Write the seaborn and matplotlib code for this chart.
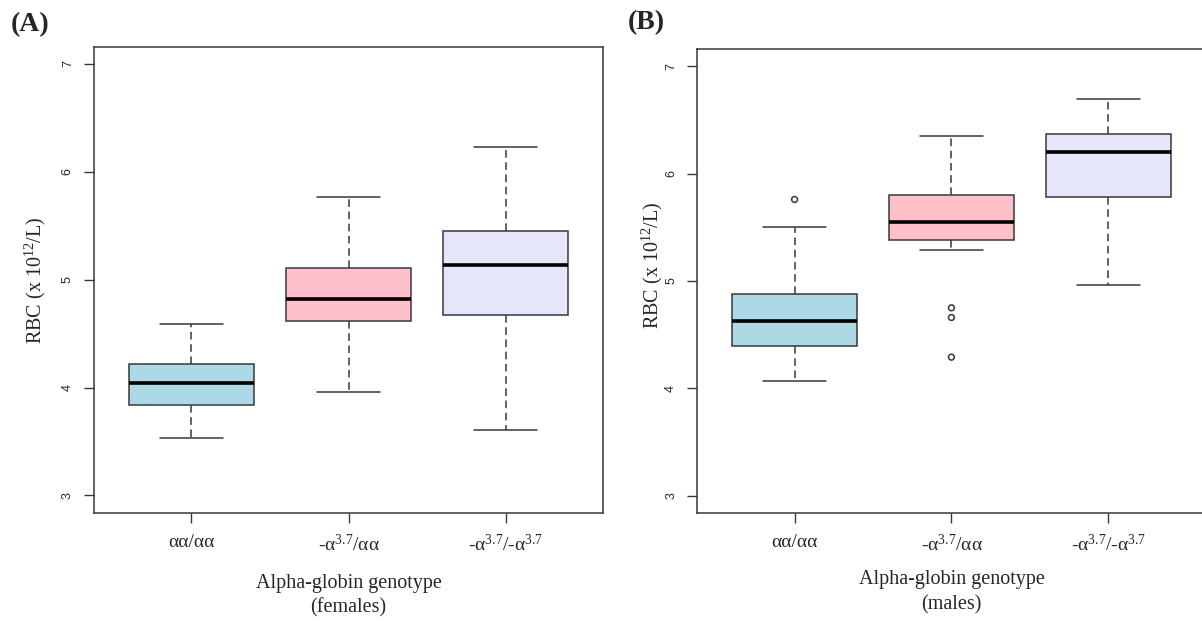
import matplotlib
matplotlib.use("Agg")
import matplotlib.pyplot as plt
import pandas as pd
import seaborn as sns

# genotype categories (x axis) and box colours
genotypes = ["αα/αα", "-α$^{3.7}$/αα", "-α$^{3.7}$/-α$^{3.7}$"]
box_colors = ["#ADD8E6", "#FFC0CB", "#E6E6FA"]

# females: lower whisker, Q1, median, Q3, upper whisker
fem_low = [3.53, 3.96, 3.61]
fem_q1 = [3.84, 4.62, 4.67]
fem_med = [4.04, 4.82, 5.14]
fem_q3 = [4.22, 5.11, 5.45]
fem_high = [4.59, 5.77, 6.23]

# males
male_low = [4.07, 5.29, 4.96]
male_q1 = [4.39, 5.38, 5.78]
male_med = [4.63, 5.55, 6.20]
male_q3 = [4.88, 5.80, 6.37]
male_high = [5.50, 6.35, 6.70]

# males: points outside the whiskers
male_out_geno = [genotypes[0], genotypes[1], genotypes[1], genotypes[1]]
male_out_val = [5.76, 4.75, 4.66, 4.29]


def long_form(low, q1, med, q3, high):
    rows = []
    for g, *vals in zip(genotypes, low, q1, med, q3, high):
        for v in vals:
            rows.append((g, v))
    return pd.DataFrame(rows, columns=["genotype", "rbc"])


sns.set_style("ticks")
plt.rcParams["font.family"] = ["Liberation Serif", "DejaVu Serif"]
plt.rcParams["mathtext.fontset"] = "custom"
plt.rcParams["mathtext.rm"] = "Liberation Serif"
plt.rcParams["mathtext.it"] = "Liberation Serif:italic"
plt.rcParams["mathtext.bf"] = "Liberation Serif:bold"

line_c = "#383838"
W, H = 1202, 622
fig = plt.figure(figsize=(W / 100, H / 100), dpi=100)
ax_a = fig.add_axes([94 / W, 1 - 512.7 / H, 509 / W, 466 / H])
ax_b = fig.add_axes([697.3 / W, 1 - 512.7 / H, 508.3 / W, 463.4 / H])

panels = [
    (ax_a, long_form(fem_low, fem_q1, fem_med, fem_q3, fem_high), "(females)"),
    (ax_b, long_form(male_low, male_q1, male_med, male_q3, male_high), "(males)"),
]

for ax, df, sex in panels:
    sns.boxplot(data=df, x="genotype", y="rbc", hue="genotype", order=genotypes,
                hue_order=genotypes, palette=box_colors, saturation=1, width=0.8,
                whis=(0, 100), linecolor=line_c, linewidth=1.1, legend=False,
                showfliers=False, ax=ax,
                medianprops=dict(color="black", linewidth=2.6),
                whiskerprops=dict(linestyle=(0, (5, 3))))

# outliers for males
out_df = pd.DataFrame({"genotype": male_out_geno, "rbc": male_out_val})
sns.stripplot(data=out_df, x="genotype", y="rbc", order=genotypes, jitter=False,
              color=line_c, size=4.2, marker="o", linewidth=1.1, edgecolor=line_c, ax=ax_b)
for coll in ax_b.collections:
    coll.set_facecolor("none")
    coll.set_edgecolor(line_c)

for ax, df, sex in panels:
    ax.set_xlim(-0.62, 2.62)
    ax.set_ylim(2.84, 7.16)
    ax.set_yticks([3, 4, 5, 6, 7])
    ax.set_yticklabels(["3", "4", "5", "6", "7"], family="Liberation Sans",
                       fontsize=9, rotation=90, va="center")
    ax.tick_params(axis="y", length=7.5, width=1, pad=7, color=line_c)
    ax.tick_params(axis="x", length=7.5, width=1, pad=8, color=line_c, labelsize=14)
    for s in ax.spines.values():
        s.set_visible(True)
        s.set_linewidth(1.1)
        s.set_color(line_c)
    ax.set_xlabel("Alpha-globin genotype\n" + sex, fontsize=14.5, linespacing=1.4)
    ax.set_ylabel("RBC (x 10$^{12}$/L)", fontsize=14.5)

ax_a.xaxis.set_label_coords(0.5, -0.131)
ax_b.xaxis.set_label_coords(0.5, -0.124)
ax_a.yaxis.set_label_coords(-0.090, 0.5)
ax_b.yaxis.set_label_coords(-0.064, 0.535)

fig.text(30 / W, 1 - 25 / H, "(A)", fontsize=20, fontweight="bold", ha="center", va="center")
fig.text(646 / W, 1 - 23 / H, "(B)", fontsize=20, fontweight="bold", ha="center", va="center")

fig.savefig("out.png", dpi=100, facecolor="white")
